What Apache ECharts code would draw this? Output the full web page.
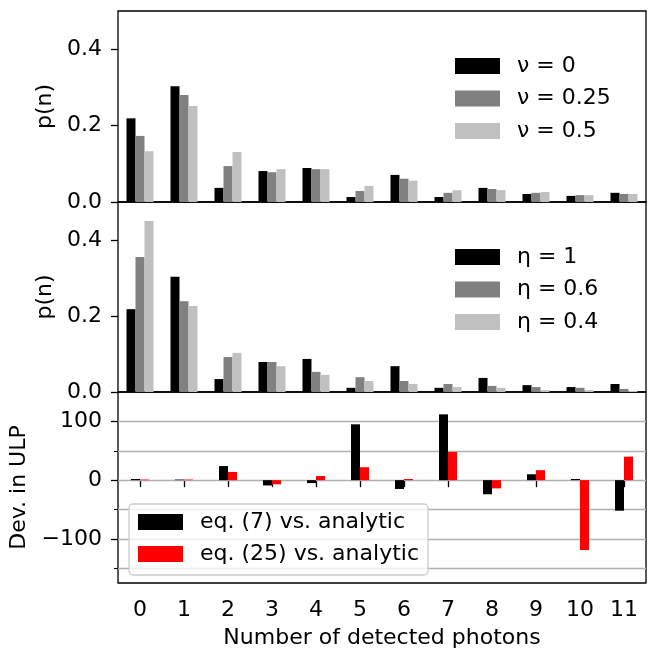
<!DOCTYPE html>
<html>
<head>
<meta charset="utf-8">
<script src="https://cdn.jsdelivr.net/npm/echarts@6/dist/echarts.min.js"></script>
<style>
  html, body { margin: 0; padding: 0; background: #fff; }
  #chart { width: 650px; height: 650px; }
</style>
</head>
<body>
<div id="chart"></div>
<script>
// photon numbers on the shared x axis
var photons = ['0', '1', '2', '3', '4', '5', '6', '7', '8', '9', '10', '11'];

// top panel: p(n) for different nu
var nu0   = [0.219, 0.303, 0.037, 0.081, 0.089, 0.013, 0.071, 0.013, 0.037, 0.021, 0.016, 0.024];
var nu025 = [0.173, 0.280, 0.094, 0.078, 0.086, 0.029, 0.061, 0.024, 0.034, 0.024, 0.018, 0.021];
var nu05  = [0.133, 0.251, 0.131, 0.086, 0.086, 0.042, 0.056, 0.031, 0.031, 0.026, 0.018, 0.021];

// middle panel: p(n) for different eta
var eta1  = [0.218, 0.303, 0.034, 0.079, 0.087, 0.011, 0.068, 0.011, 0.037, 0.018, 0.013, 0.021];
var eta06 = [0.355, 0.239, 0.092, 0.079, 0.053, 0.039, 0.029, 0.021, 0.016, 0.013, 0.011, 0.008];
var eta04 = [0.450, 0.226, 0.103, 0.068, 0.045, 0.029, 0.021, 0.013, 0.011, 0.005, 0.005, 0.003];

// bottom panel: deviation in ULP
var eq7  = [2, 1, 24, -9, -5, 95, -15, 112, -24, 10, 2, -52];
var eq25 = [1, 1, 14, -7, 7, 22, 2, 48, -14, 17, -119, 40];

// tick values
var pTicks = [0, 0.2, 0.4];
var ulpMajor = [-100, 0, 100];
var ulpMinor = [-150, -50, 50];
var ulpGrid = [-150, -100, -50, 0, 50, 100];

var FS = 22;
var FONT = 'DejaVu Sans';

function minusFmt(v) {
    return v < 0 ? '\u2212' + Math.abs(v) : String(v);
}

function pFmt(v) {
    return v.toFixed(1);
}

function xAxisFor(i, showLabels) {
    return {
        type: 'category',
        gridIndex: i,
        data: photons,
        axisLine: { show: false },
        axisTick: { show: showLabels, alignWithLabel: true, length: 7, lineStyle: { color: '#000', width: 1.3 } },
        axisLabel: { show: showLabels, fontSize: FS, fontFamily: FONT, color: '#000', margin: 16 },
        name: showLabels ? 'Number of detected photons' : '',
        nameLocation: 'middle',
        nameGap: 44,
        nameTextStyle: { fontSize: FS, fontFamily: FONT, color: '#000' }
    };
}

function pAxis(i) {
    return {
        type: 'value',
        gridIndex: i,
        min: 0,
        max: 0.5,
        name: 'p(n)',
        nameLocation: 'middle',
        nameGap: 59,
        nameTextStyle: { fontSize: FS, fontFamily: FONT, color: '#000' },
        axisLine: { show: false },
        axisTick: { show: true, length: 7, customValues: pTicks, lineStyle: { color: '#000', width: 1.3 } },
        axisLabel: { fontSize: FS, fontFamily: FONT, color: '#000', margin: 16, customValues: pTicks, formatter: pFmt },
        splitLine: { show: false }
    };
}

function bar(name, data, color, xi, yi) {
    return {
        name: name,
        type: 'bar',
        xAxisIndex: xi,
        yAxisIndex: yi,
        data: data,
        barWidth: 9,
        barGap: '0%',
        itemStyle: { color: color },
        z: 3
    };
}

function legendAt(left, top, names, extra) {
    var l = {
        orient: 'vertical',
        left: left,
        top: top,
        data: names,
        icon: 'rect',
        itemWidth: 45,
        itemHeight: 16,
        itemGap: 10.5,
        selectedMode: false,
        padding: 0,
        textStyle: { fontSize: FS, fontFamily: FONT, color: '#000', lineHeight: 22, padding: [0, 0, 0, 12] }
    };
    for (var k in extra) l[k] = extra[k];
    return l;
}

var gridBase = { left: 118, width: 528, show: true, borderColor: '#000', borderWidth: 1.3, backgroundColor: 'transparent' };

var option = {
    animation: false,
    textStyle: { fontFamily: FONT },
    grid: [
        Object.assign({ top: 11, height: 191 }, gridBase),
        Object.assign({ top: 202, height: 190 }, gridBase),
        Object.assign({ top: 392, height: 191 }, gridBase)
    ],
    xAxis: [xAxisFor(0, false), xAxisFor(1, false), xAxisFor(2, true)],
    yAxis: [
        pAxis(0),
        pAxis(1),
        {
            type: 'value',
            gridIndex: 2,
            min: -175,
            max: 150,
            name: 'Dev. in ULP',
            nameLocation: 'middle',
            nameGap: 85,
            nameTextStyle: { fontSize: FS, fontFamily: FONT, color: '#000' },
            axisLine: { show: false },
            axisTick: { show: true, length: 7, customValues: ulpMajor, lineStyle: { color: '#000', width: 1.3 } },
            axisLabel: { fontSize: FS, fontFamily: FONT, color: '#000', margin: 16, customValues: ulpMajor, formatter: minusFmt },
            splitLine: { show: false }
        },
        {
            // minor ticks
            type: 'value',
            gridIndex: 2,
            min: -175,
            max: 150,
            position: 'left',
            axisLine: { show: false },
            axisTick: { show: true, length: 4, customValues: ulpMinor, lineStyle: { color: '#000', width: 1.1 } },
            axisLabel: { show: false },
            splitLine: { show: false }
        }
    ],
    legend: [
        legendAt(455, 55, ['ν = 0', 'ν = 0.25', 'ν = 0.5'], {}),
        legendAt(455, 246, ['η = 1', 'η = 0.6', 'η = 0.4'], {}),
        legendAt(129, 504, ['eq. (7) vs. analytic', 'eq. (25) vs. analytic'], {
            itemGap: 10,
            padding: [7, 9, 10, 9],
            backgroundColor: 'rgba(255,255,255,0.8)',
            borderColor: '#cccccc',
            borderWidth: 1.3,
            borderRadius: 4
        })
    ],
    series: [
        bar('ν = 0', nu0, '#000000', 0, 0),
        bar('ν = 0.25', nu025, '#808080', 0, 0),
        bar('ν = 0.5', nu05, '#c0c0c0', 0, 0),
        bar('η = 1', eta1, '#000000', 1, 1),
        bar('η = 0.6', eta06, '#808080', 1, 1),
        bar('η = 0.4', eta04, '#c0c0c0', 1, 1),
        Object.assign(bar('eq. (7) vs. analytic', eq7, '#000000', 2, 2), {
            markLine: {
                silent: true,
                symbol: 'none',
                z: 1,
                label: { show: false },
                lineStyle: { type: 'solid', color: '#b0b0b0', width: 1.3 },
                data: ulpGrid.map(function (v) { return { yAxis: v }; })
            }
        }),
        bar('eq. (25) vs. analytic', eq25, '#ff0000', 2, 2)
    ]
};

var chart = echarts.init(document.getElementById('chart'));
chart.setOption(option);
</script>
</body>
</html>
